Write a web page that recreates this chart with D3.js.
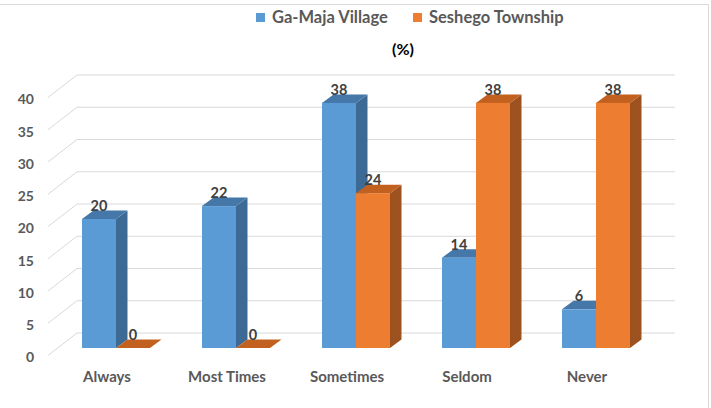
<!DOCTYPE html>
<html><head><meta charset="utf-8">
<script src="https://cdn.jsdelivr.net/npm/d3@7"></script>
<style>body{margin:0;background:#fff}svg{display:block}text{font-family:Lato,"Open Sans",sans-serif;font-weight:bold}</style>
</head><body><svg id="c" width="711" height="408"></svg>
<script>
const categories = ["Always","Most Times","Sometimes","Seldom","Never"];
const seriesNames = ["Ga-Maja Village","Seshego Township"];
const gaMaja = [20,22,38,14,6];
const seshego = [0,0,24,38,38];
const yTicks = [0,5,10,15,20,25,30,35,40];
const title = "(%)";

const svg = d3.select("#c");
const colors = {
  front:["#5b9bd5","#ed7d31"],
  side:["#3c6a95","#9e521f"],
  top:["#4577a8","#c2611f"]
};
// frame
svg.append("line").attr("x1",0).attr("x2",708.5).attr("y1",4.5).attr("y2",4.5).attr("stroke","#d9d9d9");
svg.append("line").attr("x1",708.5).attr("x2",708.5).attr("y1",4.5).attr("y2",408).attr("stroke","#d9d9d9");

const y = d3.scaleLinear().domain([0,40]).range([348,90]); // bar front plane
const backDX = 29, backDY = -22.5;
const frontOff = 7.5;
const yFront = v => y(v)+frontOff;
const yBack = v => y(v)+frontOff+backDY;
const xFront = 48, xBack = xFront+backDX, xBackEnd = 675;
const bdx = 11.5, bdy = -8.5;

// grid
const grid = svg.append("g").attr("stroke","#d9d9d9").attr("stroke-width",1);
yTicks.forEach(v=>{
  grid.append("line").attr("x1",xBack).attr("x2",xBackEnd).attr("y1",yBack(v)).attr("y2",yBack(v));
  grid.append("line").attr("x1",xFront).attr("x2",xBack).attr("y1",yFront(v)).attr("y2",yBack(v));
});

// y axis labels
const yAxisScale = d3.scaleLinear().domain([0,40]).range([yFront(0)+2,yFront(40)+2]);
const ax = svg.append("g").attr("transform",`translate(${xFront},0)`)
  .call(d3.axisLeft(yAxisScale).tickValues(yTicks).tickSize(0).tickPadding(14));
ax.select(".domain").remove();
ax.selectAll("text").attr("fill","#595959").style("font-size","14px").style("font-family","Lato").style("font-weight","bold");

// bands
const x0 = d3.scaleBand().domain(categories).range([56,656]).paddingInner(52/120).paddingOuter(26/120);
const x1 = d3.scaleBand().domain([0,1]).range([0,x0.bandwidth()]);
const data = [gaMaja, seshego];

categories.forEach((c,i)=>{
  [0,1].forEach(s=>{
    const v = data[s][i];
    const xl = x0(c)+x1(s), w = x1.bandwidth();
    const yt = y(v), yb = y(0);
    const g = svg.append("g");
    g.append("path").attr("d",`M${xl+w},${yt}L${xl+w+bdx},${yt+bdy}L${xl+w+bdx},${yb+bdy}L${xl+w},${yb}Z`).attr("fill",colors.side[s]);
    g.append("path").attr("d",`M${xl},${yt}L${xl+bdx},${yt+bdy}L${xl+w+bdx},${yt+bdy}L${xl+w},${yt}Z`).attr("fill",colors.top[s]);
    if (v>0) g.append("rect").attr("x",xl).attr("y",yt).attr("width",w).attr("height",yb-yt).attr("fill",colors.front[s]);
  });
});
// value labels
categories.forEach((c,i)=>{
  [0,1].forEach(s=>{
    const v = data[s][i];
    const xl = x0(c)+x1(s), w = x1.bandwidth();
    svg.append("text").attr("x",xl+w/2).attr("y",y(v)-8).attr("text-anchor","middle")
      .attr("fill","#404040").style("font-size","14.5px").text(v);
  });
});
// category labels
categories.forEach(c=>{
  svg.append("text").attr("x",x0(c)+25).attr("y",382).attr("text-anchor","middle")
    .attr("fill","#595959").style("font-size","15px").text(c);
});
// legend
const legX = [256,413];
seriesNames.forEach((n,s)=>{
  svg.append("rect").attr("x",legX[s]).attr("y",13).attr("width",9).attr("height",9).attr("fill",colors.front[s]);
  svg.append("text").attr("x",legX[s]+16).attr("y",23).attr("fill","#595959").style("font-size","16.5px").text(n);
});
svg.append("text").attr("x",403).attr("y",55).attr("text-anchor","middle").attr("fill","#000").style("font-size","16px").text(title);
</script></body></html>
